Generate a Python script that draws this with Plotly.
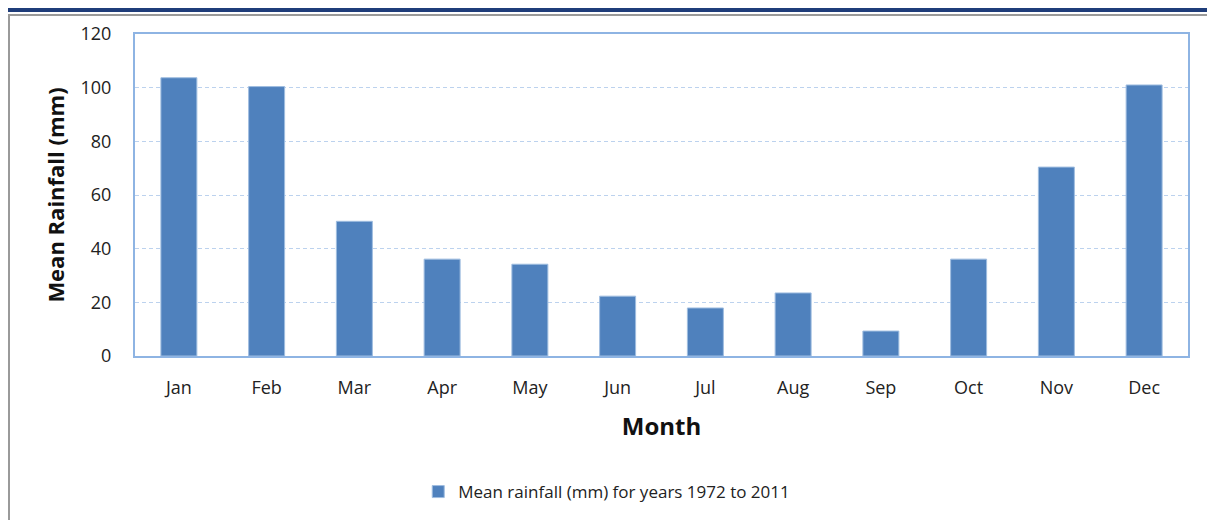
import plotly.graph_objects as go

months = ["Jan", "Feb", "Mar", "Apr", "May", "Jun", "Jul", "Aug", "Sep", "Oct", "Nov", "Dec"]
rainfall = [103.7, 100.4, 50.2, 36.1, 34.2, 22.3, 17.9, 23.5, 9.3, 36.1, 70.4, 101.0]
series_name = "Mean rainfall (mm) for years 1972 to 2011"

FONT = "Open Sans, Liberation Sans, sans-serif"
BAR = "#4f81bd"
FRAME = "#8eb4e3"
GRID = "#bcd2ee"

# the page has an 8px body margin, so the figure is laid out 8px smaller
W, H = 1207, 512
L, R, T, B = 127, 27, 26, 163
PW, PH = W - L - R, H - T - B

fig = go.Figure()
fig.add_trace(
    go.Bar(
        x=months, y=rainfall,
        name=series_name,
        marker=dict(color=BAR, line=dict(color="#9fbde0", width=1)),
        showlegend=True,
    )
)

fig.update_layout(
    width=W, height=H,
    margin=dict(l=L, r=R, t=T, b=B),
    paper_bgcolor="white",
    plot_bgcolor="white",
    bargap=0.59,
    font=dict(family=FONT, color="#222222"),
    showlegend=True,
    legend=dict(
        orientation="h",
        x=0.448, xanchor="center",
        y=-0.418, yanchor="middle",
        font=dict(size=17, color="#222222"),
        itemwidth=30,
    ),
    xaxis=dict(
        showline=True, linecolor=FRAME, linewidth=2, mirror=True,
        ticks="outside", ticklen=14, tickcolor="rgba(0,0,0,0)",
        tickfont=dict(size=18, color="#222222"),
        title=dict(text="<b>Month</b>", font=dict(size=24, color="#111111"), standoff=21),
    ),
    yaxis=dict(
        range=[0, 120], dtick=20,
        showline=True, linecolor=FRAME, linewidth=2, mirror=True,
        showgrid=True, gridcolor=GRID, griddash="4px,3px", gridwidth=1,
        zeroline=False,
        ticks="outside", ticklen=18, tickcolor="rgba(0,0,0,0)",
        tickfont=dict(size=18, color="#222222"),
        title=dict(text="<b>Mean Rainfall (mm)</b>", font=dict(size=22, color="#111111"), standoff=10),
    ),
    shapes=[
        # dark strip at the top of the page
        dict(type="rect", xref="paper", yref="paper", x0=-0.2, x1=1.1,
             y0=(PH + T - 4) / PH, y1=1.3, fillcolor="#1f3d7a", line=dict(width=0), layer="above"),
        # grey outer chart border
        dict(type="rect", xref="paper", yref="paper",
             x0=(1 - L) / PW, x1=(1203 - L) / PW,
             y0=-B / PH - 0.1, y1=(PH + T - 7) / PH,
             line=dict(color="#9a9a9a", width=2), fillcolor="rgba(0,0,0,0)", layer="below"),
    ],
)

fig.write_html("out.html")
